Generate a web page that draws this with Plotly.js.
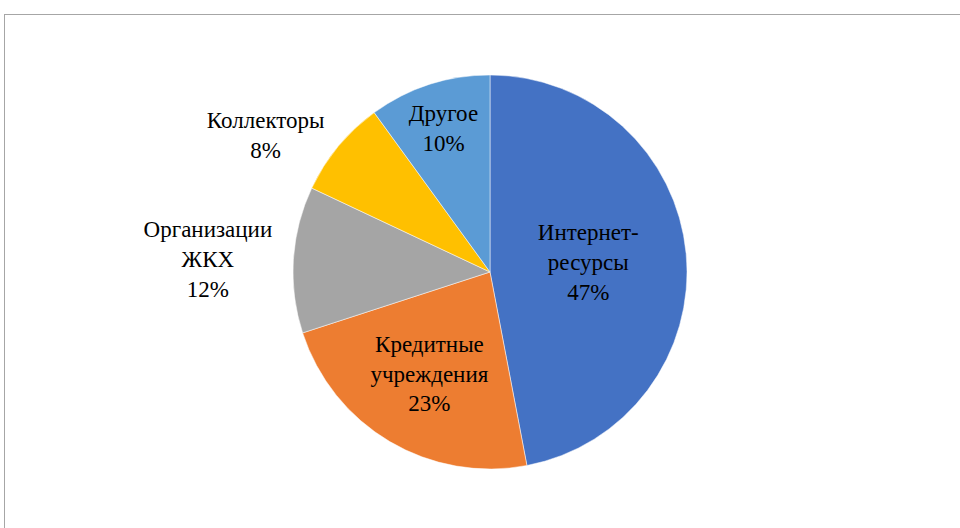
<!DOCTYPE html>
<html>
<head>
<meta charset="utf-8">
<script src="https://cdn.plot.ly/plotly-3.0.1.min.js"></script>
<style>
html,body{margin:0;padding:0;background:#fff;}
#chart{position:absolute;left:0;top:0;width:960px;height:528px;}
#frame{position:absolute;left:4px;top:14px;width:1000px;height:600px;border:1px solid #a6a6a6;box-sizing:border-box;pointer-events:none;z-index:10;}
</style>
</head>
<body>
<div id="chart"></div>
<div id="frame"></div>
<script>
const categories = ["Интернет-<br>ресурсы", "Кредитные<br>учреждения", "Организации<br>ЖКХ", "Коллекторы", "Другое"];
const shares = [47, 23, 12, 8, 10];
const colors = ["#4472C4", "#ED7D31", "#A5A5A5", "#FFC000", "#5B9BD5"];
const textPositions = ["inside", "inside", "outside", "outside", "inside"];

Plotly.newPlot("chart", [{
  type: "pie",
  labels: categories,
  values: shares,
  sort: false,
  direction: "clockwise",
  rotation: 0,
  marker: {colors: colors, line: {color: "#ffffff", width: 0.5}},
  texttemplate: "%{label}<br>%{percent:.0%}",
  textposition: textPositions,
  insidetextorientation: "horizontal",
  textfont: {family: "Liberation Serif", size: 23, color: "#000000"},
  showlegend: false
}], {
  width: 960, height: 528,
  margin: {l: 110, r: 90, t: 75, b: 59},
  showlegend: false
}, {displayModeBar: false}).then(function (gd) {
  gd.querySelectorAll("text.slicetext").forEach(function (t) {
    t.style.fontFamily = "'Liberation Serif', serif";
  });
});
</script>
</body>
</html>
